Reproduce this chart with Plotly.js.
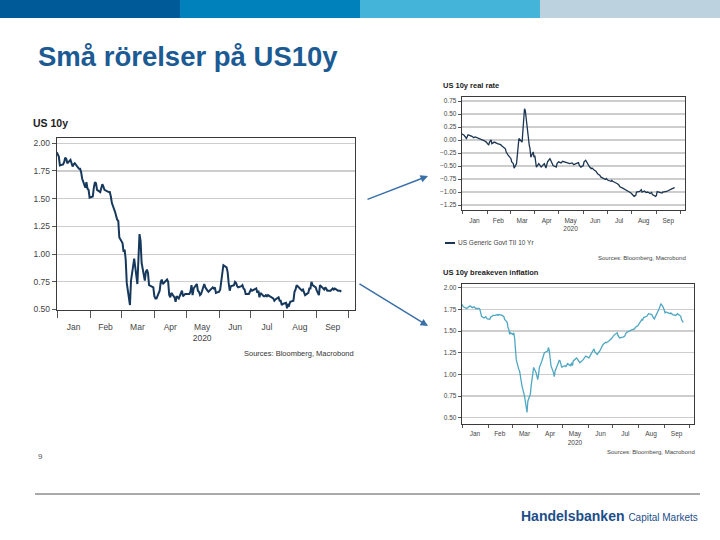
<!DOCTYPE html>
<html>
<head>
<meta charset="utf-8">
<script src="https://cdn.plot.ly/plotly-3.0.1.min.js"></script>
<style>html,body{margin:0;padding:0;background:#fff;}#chart{width:720px;height:540px;}</style>
</head>
<body>
<div id="chart"></div>
<script>
// ---- DATA ----
const monthLabels = ['Jan','Feb','Mar','Apr','May<br>2020','Jun','Jul','Aug','Sep'];
const monthMids = ['2020-01-16','2020-02-15','2020-03-16','2020-04-16','2020-05-16','2020-06-16','2020-07-16','2020-08-16','2020-09-16'];
const monthStarts = ['2020-01-01','2020-02-01','2020-03-01','2020-04-01','2020-05-01','2020-06-01','2020-07-01','2020-08-01','2020-09-01','2020-10-01'];

// US 10y nominal yield
const us10Dates = ['2019-12-31','2020-01-02','2020-01-03','2020-01-06','2020-01-07','2020-01-08','2020-01-09','2020-01-10','2020-01-13','2020-01-14','2020-01-15','2020-01-16','2020-01-17','2020-01-21','2020-01-22','2020-01-23','2020-01-24','2020-01-27','2020-01-28','2020-01-29','2020-01-30','2020-01-31',
'2020-02-03','2020-02-04','2020-02-05','2020-02-06','2020-02-07','2020-02-10','2020-02-11','2020-02-12','2020-02-13','2020-02-14','2020-02-18','2020-02-19','2020-02-20','2020-02-21','2020-02-24','2020-02-25','2020-02-26','2020-02-27','2020-02-28',
'2020-03-02','2020-03-03','2020-03-04','2020-03-05','2020-03-06','2020-03-09','2020-03-10','2020-03-11','2020-03-12','2020-03-13','2020-03-16','2020-03-17','2020-03-18','2020-03-19','2020-03-20','2020-03-23','2020-03-24','2020-03-25','2020-03-26','2020-03-27','2020-03-30','2020-03-31',
'2020-04-01','2020-04-02','2020-04-03','2020-04-06','2020-04-07','2020-04-08','2020-04-09','2020-04-13','2020-04-14','2020-04-15','2020-04-16','2020-04-17','2020-04-20','2020-04-21','2020-04-22','2020-04-23','2020-04-24','2020-04-27','2020-04-28','2020-04-29','2020-04-30',
'2020-05-01','2020-05-04','2020-05-05','2020-05-06','2020-05-07','2020-05-08','2020-05-11','2020-05-12','2020-05-13','2020-05-14','2020-05-15','2020-05-18','2020-05-19','2020-05-20','2020-05-21','2020-05-22','2020-05-26','2020-05-27','2020-05-28','2020-05-29',
'2020-06-01','2020-06-02','2020-06-03','2020-06-04','2020-06-05','2020-06-08','2020-06-09','2020-06-10','2020-06-11','2020-06-12','2020-06-15','2020-06-16','2020-06-17','2020-06-18','2020-06-19','2020-06-22','2020-06-23','2020-06-24','2020-06-25','2020-06-26','2020-06-29','2020-06-30',
'2020-07-01','2020-07-02','2020-07-06','2020-07-07','2020-07-08','2020-07-09','2020-07-10','2020-07-13','2020-07-14','2020-07-15','2020-07-16','2020-07-17','2020-07-20','2020-07-21','2020-07-22','2020-07-23','2020-07-24','2020-07-27','2020-07-28','2020-07-29','2020-07-30','2020-07-31',
'2020-08-03','2020-08-04','2020-08-05','2020-08-06','2020-08-07','2020-08-10','2020-08-11','2020-08-12','2020-08-13','2020-08-14','2020-08-17','2020-08-18','2020-08-19','2020-08-20','2020-08-21','2020-08-24','2020-08-25','2020-08-26','2020-08-27','2020-08-28','2020-08-31',
'2020-09-01','2020-09-02','2020-09-03','2020-09-04','2020-09-08','2020-09-09','2020-09-10','2020-09-11','2020-09-14','2020-09-15','2020-09-16','2020-09-17','2020-09-18','2020-09-21','2020-09-22','2020-09-23','2020-09-24'];
const us10Values = [1.92,1.88,1.80,1.81,1.83,1.87,1.86,1.82,1.85,1.81,1.79,1.81,1.82,1.77,1.77,1.74,1.68,1.60,1.65,1.59,1.58,1.51,
1.52,1.60,1.65,1.64,1.58,1.56,1.59,1.63,1.61,1.58,1.56,1.56,1.52,1.46,1.38,1.33,1.31,1.30,1.15,
1.10,1.02,1.04,0.95,0.74,0.54,0.76,0.82,0.88,0.96,0.73,1.02,1.18,1.12,0.92,0.76,0.84,0.86,0.83,0.72,0.70,0.70,
0.62,0.60,0.60,0.67,0.75,0.77,0.73,0.77,0.75,0.63,0.61,0.65,0.61,0.57,0.62,0.61,0.60,0.67,0.62,0.63,0.64,
0.64,0.64,0.66,0.72,0.63,0.69,0.73,0.67,0.66,0.63,0.64,0.73,0.70,0.68,0.67,0.66,0.70,0.69,0.70,0.65,
0.66,0.68,0.77,0.82,0.90,0.88,0.84,0.74,0.67,0.71,0.72,0.75,0.74,0.71,0.70,0.71,0.72,0.69,0.68,0.64,0.64,0.66,
0.68,0.67,0.69,0.65,0.67,0.61,0.65,0.62,0.62,0.63,0.62,0.63,0.61,0.61,0.60,0.58,0.59,0.61,0.58,0.58,0.54,0.55,
0.56,0.51,0.55,0.54,0.57,0.58,0.66,0.68,0.72,0.71,0.68,0.67,0.68,0.65,0.63,0.65,0.69,0.69,0.75,0.72,0.70,
0.67,0.65,0.63,0.72,0.68,0.70,0.68,0.67,0.67,0.68,0.69,0.68,0.69,0.67,0.67,0.67,0.66];

// US 10y real rate (US Generic Govt TII 10 Yr)
const realDates = ['2019-12-31','2020-01-03','2020-01-06','2020-01-08','2020-01-13','2020-01-15','2020-01-17','2020-01-21','2020-01-23','2020-01-27','2020-01-28','2020-01-31',
'2020-02-03','2020-02-04','2020-02-06','2020-02-07','2020-02-10','2020-02-14','2020-02-18','2020-02-20','2020-02-24','2020-02-25','2020-02-26','2020-02-27',
'2020-03-02','2020-03-03','2020-03-05','2020-03-06','2020-03-09','2020-03-10','2020-03-11','2020-03-12','2020-03-16','2020-03-17','2020-03-18','2020-03-19','2020-03-20','2020-03-23','2020-03-24','2020-03-25','2020-03-26','2020-03-27','2020-03-30','2020-03-31',
'2020-04-01','2020-04-02','2020-04-03','2020-04-06','2020-04-08','2020-04-09','2020-04-13','2020-04-14','2020-04-15','2020-04-17','2020-04-20','2020-04-21','2020-04-23','2020-04-24','2020-04-28','2020-04-29',
'2020-05-01','2020-05-04','2020-05-06','2020-05-08','2020-05-12','2020-05-15','2020-05-18','2020-05-20','2020-05-22','2020-05-26','2020-05-27','2020-05-29',
'2020-06-01','2020-06-02','2020-06-04','2020-06-05','2020-06-09','2020-06-11','2020-06-12','2020-06-15','2020-06-17','2020-06-19','2020-06-22','2020-06-23','2020-06-25','2020-06-29','2020-06-30',
'2020-07-02','2020-07-06','2020-07-07','2020-07-08','2020-07-10','2020-07-13','2020-07-14','2020-07-16','2020-07-17','2020-07-20','2020-07-22','2020-07-24','2020-07-27','2020-07-29','2020-07-31',
'2020-08-03','2020-08-04','2020-08-06','2020-08-07','2020-08-11','2020-08-13','2020-08-14','2020-08-17','2020-08-19','2020-08-21','2020-08-24','2020-08-26','2020-08-27','2020-08-31',
'2020-09-01','2020-09-02','2020-09-04','2020-09-08','2020-09-09','2020-09-11','2020-09-14','2020-09-15','2020-09-17','2020-09-18','2020-09-21','2020-09-23','2020-09-24'];
const realValues = [0.12,0.09,0.03,0.10,0.07,0.045,0.06,0.04,0.025,0.005,-0.01,-0.04,
-0.10,-0.04,0.00,-0.07,-0.04,-0.07,-0.09,-0.12,-0.17,-0.23,-0.26,-0.28,
-0.36,-0.42,-0.455,-0.54,-0.455,-0.23,-0.10,0.03,-0.04,0.22,0.54,0.60,0.57,0.09,-0.04,-0.10,-0.17,-0.33,-0.23,-0.33,
-0.30,-0.42,-0.52,-0.455,-0.49,-0.52,-0.455,-0.49,-0.54,-0.42,-0.36,-0.39,-0.455,-0.49,-0.52,-0.455,
-0.42,-0.44,-0.41,-0.42,-0.435,-0.455,-0.44,-0.475,-0.46,-0.435,-0.49,-0.52,
-0.49,-0.42,-0.39,-0.42,-0.52,-0.55,-0.54,-0.58,-0.60,-0.65,-0.68,-0.71,-0.73,-0.76,-0.74,
-0.775,-0.795,-0.775,-0.795,-0.81,-0.83,-0.84,-0.87,-0.90,-0.92,-0.935,-0.95,-0.97,-1.00,-1.02,
-1.064,-1.083,-1.064,-1.00,-0.99,-0.955,-1.00,-0.98,-1.01,-1.00,-1.03,-1.01,-1.05,-1.083,
-1.064,-0.99,-1.00,-1.02,-1.00,-1.00,-0.99,-0.98,-0.97,-0.95,-0.935,-0.92,-0.915];

// US 10y breakeven inflation
const beDates = ['2019-12-31','2020-01-02','2020-01-06','2020-01-07','2020-01-09','2020-01-10','2020-01-13','2020-01-15','2020-01-17','2020-01-21','2020-01-22','2020-01-23','2020-01-24','2020-01-27','2020-01-29','2020-01-31',
'2020-02-03','2020-02-04','2020-02-06','2020-02-07','2020-02-10','2020-02-12','2020-02-13','2020-02-14','2020-02-18','2020-02-20','2020-02-21','2020-02-24','2020-02-25','2020-02-26','2020-02-27','2020-02-28',
'2020-03-02','2020-03-03','2020-03-04','2020-03-05','2020-03-06','2020-03-09','2020-03-10','2020-03-11','2020-03-12','2020-03-13','2020-03-16','2020-03-17','2020-03-18','2020-03-19','2020-03-20','2020-03-23','2020-03-24','2020-03-25','2020-03-26','2020-03-27','2020-03-30','2020-03-31',
'2020-04-01','2020-04-02','2020-04-03','2020-04-06','2020-04-07','2020-04-08','2020-04-09','2020-04-13','2020-04-14','2020-04-15','2020-04-16','2020-04-17','2020-04-20','2020-04-21','2020-04-22','2020-04-23','2020-04-24','2020-04-27','2020-04-28','2020-04-29','2020-04-30',
'2020-05-01','2020-05-04','2020-05-05','2020-05-06','2020-05-07','2020-05-08','2020-05-11','2020-05-12','2020-05-13','2020-05-14','2020-05-18','2020-05-20','2020-05-22','2020-05-26','2020-05-29',
'2020-06-02','2020-06-04','2020-06-08','2020-06-09','2020-06-12','2020-06-15','2020-06-17','2020-06-19','2020-06-22','2020-06-23','2020-06-26','2020-06-29',
'2020-07-02','2020-07-06','2020-07-07','2020-07-09','2020-07-13','2020-07-15','2020-07-17','2020-07-20','2020-07-23','2020-07-27','2020-07-28','2020-07-31',
'2020-08-03','2020-08-05','2020-08-06','2020-08-07','2020-08-11','2020-08-13','2020-08-17','2020-08-18','2020-08-20','2020-08-24','2020-08-26','2020-08-27','2020-08-28','2020-08-31',
'2020-09-02','2020-09-03','2020-09-08','2020-09-09','2020-09-11','2020-09-15','2020-09-17','2020-09-21','2020-09-22','2020-09-24'];
const beValues = [1.81,1.78,1.76,1.77,1.78,1.79,1.77,1.78,1.76,1.76,1.75,1.72,1.67,1.65,1.665,1.64,
1.635,1.66,1.67,1.68,1.68,1.69,1.68,1.69,1.68,1.665,1.635,1.60,1.54,1.52,1.46,1.48,
1.46,1.48,1.42,1.31,1.17,1.06,1.04,0.98,0.90,0.865,0.75,0.69,0.635,0.56,0.69,0.77,0.865,0.96,1.06,1.08,1.02,0.98,
0.94,1.00,1.08,1.155,1.19,1.22,1.25,1.27,1.31,1.27,1.17,1.10,1.02,0.975,1.04,1.065,1.10,1.16,1.155,1.115,1.08,
1.09,1.10,1.09,1.10,1.13,1.115,1.10,1.135,1.10,1.155,1.19,1.155,1.135,1.17,1.21,
1.19,1.23,1.295,1.26,1.23,1.27,1.31,1.345,1.37,1.365,1.385,1.41,
1.45,1.48,1.45,1.42,1.43,1.44,1.48,1.50,1.51,1.525,1.54,1.56,
1.60,1.635,1.63,1.655,1.67,1.70,1.69,1.665,1.64,1.71,1.76,1.79,1.815,1.77,
1.71,1.72,1.70,1.71,1.69,1.68,1.70,1.67,1.63,1.60];

const us10Ticks = [0.50,0.75,1.00,1.25,1.50,1.75,2.00];
const realTicks = [-1.25,-1.00,-0.75,-0.50,-0.25,0.00,0.25,0.50,0.75];
const beTicks = [0.50,0.75,1.00,1.25,1.50,1.75,2.00];

// ---- STYLE ----
const FONT = 'Arial, "Liberation Sans", sans-serif';
const W = 720, H = 540;
const px = x => x / W;
const py = y => 1 - y / H;
const dateRange = ['2019-12-31', '2020-10-07'];

function xAxis(domain, anchor, fs, lab, tl) {
  return {
    type: 'date', domain: domain, anchor: anchor, range: dateRange,
    tickmode: 'array', tickvals: monthMids, ticktext: monthLabels,
    ticks: 'outside', ticklen: lab, tickcolor: 'rgba(0,0,0,0)',
    tickfont: {family: FONT, size: fs, color: '#444'},
    showgrid: false, zeroline: false,
    showline: true, linecolor: '#3a3a3a', linewidth: 1, mirror: true,
    minor: {tickmode: 'array', tickvals: monthStarts, ticks: 'outside', ticklen: tl, tickcolor: '#555', tickwidth: 1, showgrid: false}
  };
}
function yAxis(domain, anchor, range, tickvals, fs, tl) {
  return {
    domain: domain, anchor: anchor, range: range,
    tickmode: 'array', tickvals: tickvals, tickformat: '.2f',
    ticks: 'outside', ticklen: tl, tickcolor: '#555',
    tickfont: {family: FONT, size: fs, color: '#444'},
    showgrid: true, gridcolor: '#cdcdcd', gridwidth: 1.2, zeroline: false,
    showline: true, linecolor: '#3a3a3a', linewidth: 1, mirror: true
  };
}

const traces = [
  {x: us10Dates, y: us10Values, xaxis: 'x', yaxis: 'y', type: 'scatter', mode: 'lines',
   line: {color: '#16385c', width: 2}, name: 'US 10y'},
  {x: realDates, y: realValues, xaxis: 'x2', yaxis: 'y2', type: 'scatter', mode: 'lines',
   line: {color: '#1b3552', width: 1.3}, name: 'US Generic Govt TII 10 Yr'},
  {x: beDates, y: beValues, xaxis: 'x3', yaxis: 'y3', type: 'scatter', mode: 'lines',
   line: {color: '#4fa8c3', width: 1.3}, name: 'US 10y breakeven inflation'}
];

const bandColors = ['#005a98', '#0081bb', '#44b4d8', '#bcd3df'];
const shapes = bandColors.map((c, i) => ({
  type: 'rect', xref: 'paper', yref: 'paper', x0: px(i * 180), x1: px((i + 1) * 180),
  y0: py(18), y1: 1, fillcolor: c, line: {width: 0}, layer: 'below'
}));
shapes.push({type: 'line', xref: 'paper', yref: 'paper', x0: px(35), x1: px(700), y0: py(494), y1: py(494), line: {color: '#555', width: 1}});
shapes.push({type: 'line', xref: 'paper', yref: 'paper', x0: px(445), x1: px(455), y0: py(243), y1: py(243), line: {color: '#1b3552', width: 2}});

const ann = (text, x, y, size, opts) => Object.assign({
  text: text, x: px(x), y: py(y), xref: 'paper', yref: 'paper', showarrow: false,
  xanchor: 'left', yanchor: 'middle', font: {family: FONT, size: size, color: '#222'}
}, opts || {});

const annotations = [
  ann('<b>Små rörelser på US10y</b>', 36, 56, 27.5, {font: {family: FONT, size: 27.5, color: '#1b5a93'}}),
  ann('<b>US 10y</b>', 31, 123, 10.5, {font: {family: FONT, size: 10.5, color: '#222'}}),
  ann('Sources: Bloomberg, Macrobond', 356, 353, 7.5, {xanchor: 'right', font: {family: FONT, size: 7.5, color: '#333'}}),
  ann('<b>US 10y real rate</b>', 441, 86, 7.5, {font: {family: FONT, size: 7.5, color: '#222'}}),
  ann('US Generic Govt TII 10 Yr', 456, 243, 6.5, {font: {family: FONT, size: 6.5, color: '#444'}}),
  ann('Sources: Bloomberg, Macrobond', 688, 258, 6, {xanchor: 'right', font: {family: FONT, size: 6, color: '#444'}}),
  ann('<b>US 10y breakeven inflation</b>', 441, 272.5, 7.5, {font: {family: FONT, size: 7.5, color: '#222'}}),
  ann('Sources: Bloomberg, Macrobond', 697, 452, 6, {xanchor: 'right', font: {family: FONT, size: 6, color: '#444'}}),
  ann('9', 36, 456, 8, {font: {family: FONT, size: 8, color: '#555'}}),
  ann('<b>Handelsbanken</b> <span style="font-size:10px">Capital Markets</span>', 700, 516, 14, {xanchor: 'right', font: {family: FONT, size: 14, color: '#1d4e8a'}}),
  {x: px(428), y: py(176), xref: 'paper', yref: 'paper', ax: -62, ay: 24, axref: 'pixel', ayref: 'pixel',
   text: '', showarrow: true, arrowhead: 2, arrowsize: 1, arrowwidth: 1.5, arrowcolor: '#3b6fa8'},
  {x: px(428), y: py(326), xref: 'paper', yref: 'paper', ax: -70, ay: -43, axref: 'pixel', ayref: 'pixel',
   text: '', showarrow: true, arrowhead: 2, arrowsize: 1, arrowwidth: 1.5, arrowcolor: '#3b6fa8'}
];

const layout = {
  width: W, height: H, margin: {l: 0, r: 0, t: 0, b: 0},
  paper_bgcolor: '#fff', plot_bgcolor: '#fff', showlegend: false,
  font: {family: FONT},
  xaxis: xAxis([px(56.7), px(355)], 'y', 8.5, 9, 7),
  yaxis: yAxis([1 - 309.5 / H, 1 - 138.3 / H], 'x', [0.5, 2.045], us10Ticks, 8.5, 4),
  xaxis2: xAxis([px(461.7), px(685)], 'y2', 6.5, 4, 3),
  yaxis2: yAxis([1 - 210 / H, 1 - 96.7 / H], 'x2', [-1.346, 0.833], realTicks, 6.5, 3),
  xaxis3: xAxis([px(461.7), px(694)], 'y3', 6.5, 3, 3),
  yaxis3: yAxis([1 - 424.3 / H, 1 - 283.7 / H], 'x3', [0.424, 2.046], beTicks, 6.5, 3),
  shapes: shapes,
  annotations: annotations
};

Plotly.newPlot('chart', traces, layout, {staticPlot: true, displayModeBar: false});
</script>
</body>
</html>
